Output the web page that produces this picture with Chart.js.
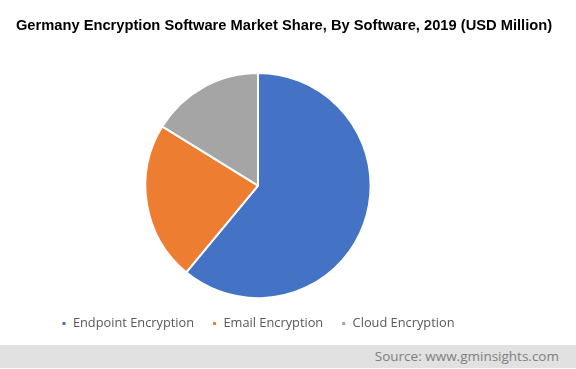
<!DOCTYPE html>
<html>
<head>
<meta charset="utf-8">
<script src="https://cdn.jsdelivr.net/npm/chart.js@4/dist/chart.umd.min.js"></script>
<style>
  html, body { margin: 0; padding: 0; background: #fff; }
  #wrap { position: relative; width: 576px; height: 369px; }
  #title {
    position: absolute; left: 0; top: 16px; width: 568px; text-align: center;
    font: bold 14.7px Arial, "Liberation Sans", sans-serif; color: #000;
    line-height: 18px;
  }
  #footer {
    position: absolute; left: 0; top: 345px; width: 576px; height: 23px;
    background: #e1e1e1; color: #7f7f7f;
    font: 13.5px "Open Sans", sans-serif; line-height: 23px;
    text-align: right; box-sizing: border-box; padding-right: 17px;
  }
</style>
</head>
<body>
<div id="wrap">
  <canvas id="chart" width="576" height="369"></canvas>
  <div id="title"></div>
  <div id="footer">Source: www.gminsights.com</div>
</div>
<script>
const titleText = 'Germany Encryption Software Market Share, By Software, 2019 (USD Million)';
const categories = ['Endpoint Encryption', 'Email Encryption', 'Cloud Encryption'];
const shares = [61, 22.8, 16.2];
const sliceColors = ['#4472c4', '#ed7d31', '#a5a5a5'];

document.getElementById('title').textContent = titleText;

const ctx = document.getElementById('chart').getContext('2d');
new Chart(ctx, {
  type: 'pie',
  data: {
    labels: categories,
    datasets: [{
      data: shares,
      backgroundColor: sliceColors,
      borderColor: '#ffffff',
      borderWidth: 2
    }]
  },
  options: {
    responsive: false,
    animation: false,
    layout: { padding: { left: 0, right: 60, top: 72, bottom: 29 } },
    plugins: {
      legend: {
        position: 'bottom',
        labels: {
          color: '#595959',
          font: { family: '"Open Sans", sans-serif', size: 12.8 },
          boxWidth: 5,
          boxHeight: 5,
          padding: 18
        }
      },
      tooltip: { enabled: false }
    }
  }
});
</script>
</body>
</html>
